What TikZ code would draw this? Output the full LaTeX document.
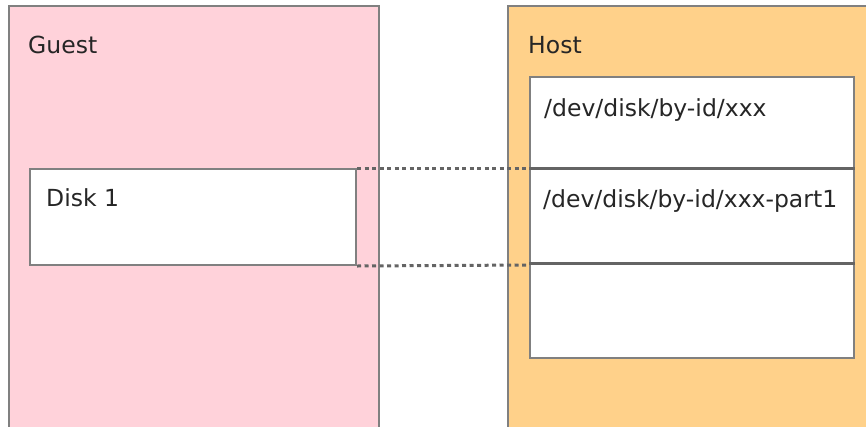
\documentclass[tikz,border=0pt]{standalone}
\usepackage{fontspec}
\setmainfont{DejaVu Sans}
\usepackage{xcolor}
\usetikzlibrary{calc, positioning}

\definecolor{guestpink}{RGB}{255,210,218}
\definecolor{hostorange}{RGB}{255,209,138}
\definecolor{edgegray}{RGB}{128,128,128}
\definecolor{linegray}{RGB}{100,100,100}

\tikzset{
    panel/.style={draw=edgegray, line width=2pt, anchor=north west, inner sep=0pt},
    diskbox/.style={draw=edgegray, line width=2pt, fill=white, anchor=north west, inner sep=0pt, minimum width=324pt},
    txt/.style={anchor=west, inner sep=0pt, text=black!85, font=\fontsize{23.5}{27}\selectfont}
}

\begin{document}
\begin{tikzpicture}[>=latex, x=1pt, y=-1pt]
    \clip (0,0) rectangle (866,426);
    \fill[white] (0,0) rectangle (866,426);

    % Hai khung lớn
    \node[panel, fill=guestpink, minimum width=370pt, minimum height=440pt] (guest) at (8,5) {};
    \node[panel, fill=hostorange, minimum width=380pt, minimum height=440pt] (host) at (507,5) {};
    \node[txt] (guesttxt) at (28,45) {Guest};
    \node[txt] (hosttxt) at (528,45) {Host};

    % Ổ đĩa bên Guest
    \node[diskbox, minimum width=326pt, minimum height=96pt] (disk1) at (29,168) {};
    \node[txt] (disk1txt) at (46,198) {Disk 1};

    % Các ô bên Host
    \node[diskbox, minimum height=92pt] (hostA) at (529,76) {};
    \node[diskbox, minimum height=95pt] (hostB) at (529,168) {};
    \node[diskbox, minimum height=94pt] (hostC) at (529,263) {};
    \draw[linegray, line width=3pt] (hostB.north west) -- (hostB.north east);
    \draw[linegray, line width=3pt] (hostC.north west) -- (hostC.north east);
    \node[txt] (idtxt) at (544,110) {/dev/disk/by-id/xxx};
    \node[txt] (parttxt) at (543,201) {/dev/disk/by-id/xxx-part1};

    % Đường nối
    \draw[linegray, line width=3pt, dash pattern=on 4pt off 3.5pt] (disk1.north east) -- (hostB.north west);
    \draw[linegray, line width=3pt, dash pattern=on 4pt off 3.5pt] (disk1.south east) -- (hostB.south west);
\end{tikzpicture}
\end{document}
